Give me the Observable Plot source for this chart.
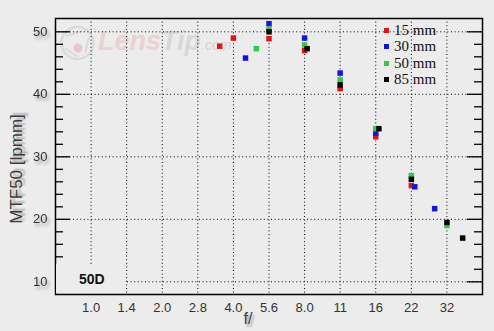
<!DOCTYPE html>
<html><head><meta charset="utf-8">
<script src="https://cdn.jsdelivr.net/npm/d3@7"></script>
<script src="https://cdn.jsdelivr.net/npm/@observablehq/plot@0.6"></script>
<style>
html,body{margin:0;padding:0;background:#ececec;}
#wrap{position:relative;width:494px;height:331px;overflow:hidden;background:#ececec;font-family:"Liberation Sans",Arial,sans-serif;}
#wrap svg{position:absolute;left:0;top:0;}
.ov{position:absolute;white-space:nowrap;}
.shadow{text-shadow:2px 3px 2px rgba(0,0,0,0.3);}
#ytitle{left:-83px;top:158px;width:200px;height:22px;line-height:22px;text-align:center;transform:rotate(-90deg);font-size:17px;color:#3a3a3a;}
#xtitle{left:238px;top:308px;width:20px;height:22px;line-height:22px;text-align:center;font-size:16px;color:#3a3a3a;}
#legend{left:384px;top:22px;font-family:"Liberation Serif","Times New Roman",serif;font-size:15px;color:#111;}
#legend div{height:16.4px;line-height:16.4px;}
#legend span.sw{display:inline-block;width:5px;height:5px;margin-right:5px;vertical-align:middle;position:relative;top:-1px;}
#tag{left:56px;top:264px;width:70px;height:29px;background:#ececec;}
#tag span{position:absolute;left:23px;top:7px;font-weight:bold;font-size:14px;color:#111;}
#wm{left:58px;top:22px;}
#wm svg{position:static;}
</style></head><body>
<div id="wrap"></div>
<script>
// ---- data ----
const stopLabels = ["1.0","1.4","2.0","2.8","4.0","5.6","8.0","11","16","22","32"];
const stopValues = [1, 1.414, 2, 2.828, 4, 5.657, 8, 11.31, 16, 22.63, 32];
const yMajor = [10, 20, 30, 40, 50];
const yMinor = [12, 14, 16, 18, 22, 24, 26, 28, 32, 34, 36, 38, 42, 44, 46, 48];

const seriesNames = ["15 mm", "30 mm", "50 mm", "85 mm"];
const seriesColors = ["#e01414", "#1414e0", "#2ecc4a", "#000000"];

const f15 = [3.5, 4.0, 5.657, 8.0, 11.31, 16.0, 22.63];
const m15 = [47.7, 49.0, 48.9, 47.0, 40.9, 33.2, 25.4];
const f30 = [4.5, 5.657, 8.0, 11.31, 16.0, 23.4, 28.4];
const m30 = [45.8, 51.3, 49.0, 43.4, 33.8, 25.2, 21.7];
const f50 = [5.0, 5.657, 8.0, 11.31, 16.0, 22.63, 32.0];
const m50 = [47.3, 50.4, 47.9, 42.3, 34.5, 27.0, 19.0];
const f85 = [5.657, 8.2, 11.31, 16.5, 22.63, 32.0, 37.3];
const m85 = [50.0, 47.3, 41.5, 34.5, 26.4, 19.5, 17.0];

const cameraLabel = "50D";
const yTitle = "MTF50 [lpmm]";
const xTitle = "f/";

// ---- layout ----
const W = 494, H = 331, mL = 55, mT = 18, mR = 12, mB = 37;
const innerW = W - mL - mR;

const toRows = (fs, ms) => fs.map((f, i) => ({f, m: ms[i]}));
const allSeries = [toRows(f15, m15), toRows(f30, m30), toRows(f50, m50), toRows(f85, m85)];
const xTicks = stopValues.map((v, i) => ({v, label: stopLabels[i]}));

const chart = Plot.plot({
  width: W, height: H,
  marginLeft: mL, marginTop: mT, marginRight: mR, marginBottom: mB,
  style: {background: "transparent", fontFamily: "'Liberation Sans', Arial, sans-serif", color: "#333"},
  x: {type: "log", domain: [Math.SQRT1_2, 32 * Math.SQRT2], axis: null},
  y: {domain: [7.97, 52.13], axis: null},
  marks: [
    Plot.gridX(stopValues, {stroke: "#000", strokeOpacity: 1, strokeWidth: 1, strokeDasharray: "1,2.6"}),
    Plot.gridY(yMajor, {stroke: "#000", strokeOpacity: 1, strokeWidth: 1, strokeDasharray: "1,2.6"}),
    Plot.tickY(yMajor, {y: d => d, stroke: "#000", strokeWidth: 1.3, insetRight: innerW - 15}),
    Plot.tickY(yMinor, {y: d => d, stroke: "#000", strokeWidth: 1.3, insetRight: innerW - 8}),
    Plot.tickY(yMajor, {y: d => d, stroke: "#000", strokeWidth: 1.3, insetLeft: innerW - 15}),
    Plot.tickY(yMinor, {y: d => d, stroke: "#000", strokeWidth: 1.3, insetLeft: innerW - 8}),
    ...allSeries.map((rows, i) => Plot.dot(rows, {x: "f", y: "m", symbol: "square", r: 3.1, fill: seriesColors[i], stroke: "none"})),
    Plot.text(xTicks, {x: "v", text: "label", frameAnchor: "bottom", lineAnchor: "top", dy: 8, fontSize: 13, fill: "#333", ariaLabel: "xlab"}),
    Plot.axisY(yMajor, {tickSize: 0, tickPadding: 8, fontSize: 13, label: null, fill: "#333"}),
    Plot.frame({stroke: "#000", strokeWidth: 1.5})
  ]
});

const wrap = document.getElementById("wrap");

// watermark (under the chart)
const wm = document.createElement("div");
wm.className = "ov"; wm.id = "wm";
wm.innerHTML = `<svg width="190" height="42">
  <circle cx="19.5" cy="21" r="16" fill="none" stroke="#dadada" stroke-width="2.5"/>
  <path d="M8 14 L24 9 M31 15 L27 31 M20 35 L7 26" stroke="#dadada" stroke-width="2" fill="none"/>
  <circle cx="20" cy="26" r="4.5" fill="#ebc6c6"/>
  <text x="40" y="28" font-family="'Liberation Sans',Arial,sans-serif" font-weight="bold" font-style="italic" font-size="27" fill="#ebd2d2">Lens<tspan fill="#d8d8d8">Tip</tspan><tspan font-size="14" font-weight="normal" fill="#dcd0d0">.com</tspan></text>
</svg>`;
wrap.appendChild(wm);

wrap.appendChild(chart);

for (const g of chart.querySelectorAll('[aria-label="xlab"], [aria-label="y-axis tick label"]')) {
  g.style.filter = "drop-shadow(2px 3px 1.5px rgba(0,0,0,0.3))";
}

const tag = document.createElement("div");
tag.className = "ov"; tag.id = "tag";
tag.innerHTML = `<span>${cameraLabel}</span>`;
wrap.appendChild(tag);

const yt = document.createElement("div");
yt.className = "ov shadow"; yt.id = "ytitle"; yt.textContent = yTitle;
wrap.appendChild(yt);

const xt = document.createElement("div");
xt.className = "ov shadow"; xt.id = "xtitle"; xt.textContent = xTitle;
wrap.appendChild(xt);

const lg = document.createElement("div");
lg.className = "ov"; lg.id = "legend";
lg.innerHTML = seriesNames.map((n, i) =>
  `<div><span class="sw" style="background:${seriesColors[i]}"></span>${n}</div>`).join("");
wrap.appendChild(lg);
</script>
</body></html>
